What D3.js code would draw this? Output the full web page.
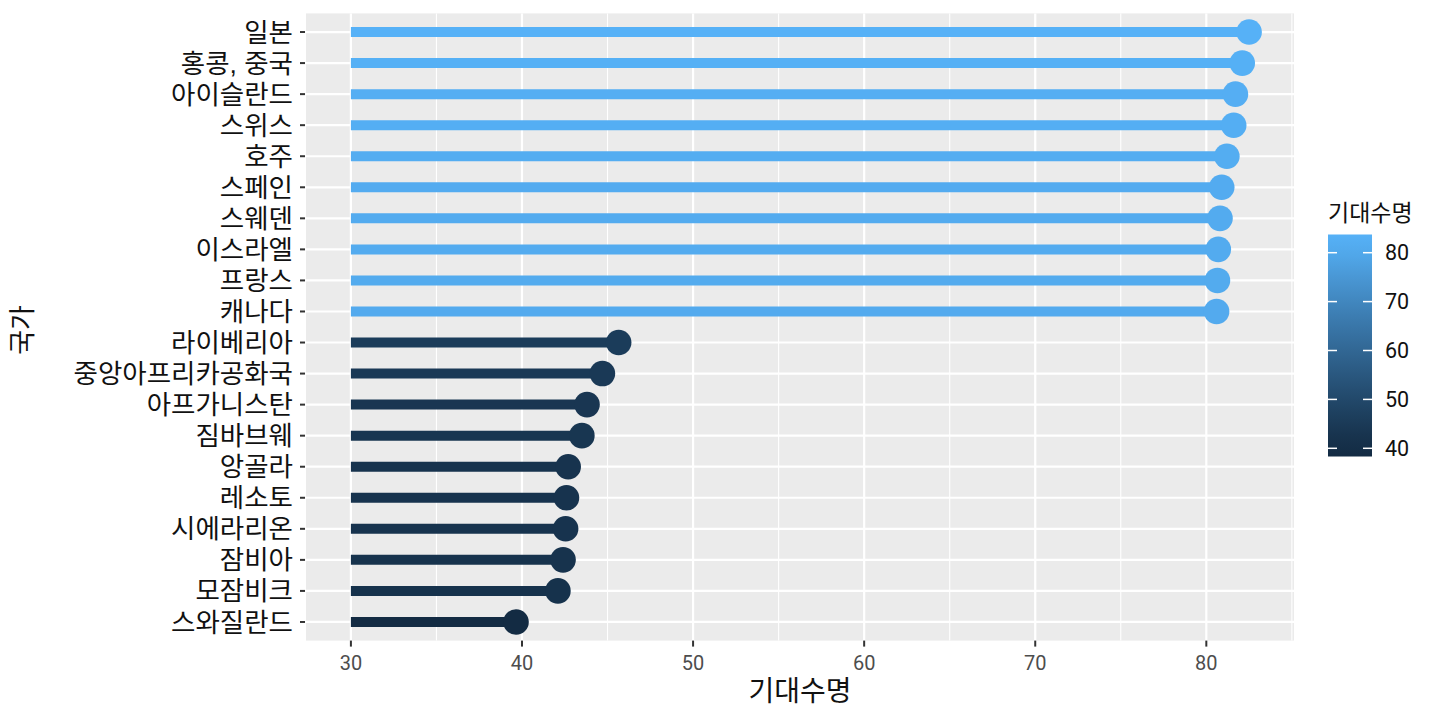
<!DOCTYPE html>
<html><head><meta charset="utf-8">
<script src="https://cdn.jsdelivr.net/npm/d3@7"></script>
<style>body{margin:0;background:#fff}svg{display:block}text{font-family:"Noto Sans CJK KR","Noto Sans",sans-serif}</style>
</head><body><svg id="c" width="1440" height="720"></svg>
<script>
const countries = ["일본","홍콩, 중국","아이슬란드","스위스","호주","스페인","스웨덴","이스라엘","프랑스","캐나다",
  "라이베리아","중앙아프리카공화국","아프가니스탄","짐바브웨","앙골라","레소토","시에라리온","잠비아","모잠비크","스와질란드"];
const lifeExp = [82.5,82.1,81.7,81.6,81.2,80.9,80.8,80.7,80.65,80.6,
  45.65,44.7,43.8,43.5,42.7,42.6,42.55,42.4,42.1,39.65];
const xTicks = [30,40,50,60,70,80];
const legendTicks = [40,50,60,70,80];
const baseline = 30;

const svg = d3.select("#c");
const P = {l:306, r:1294, t:13.4, b:640.6};
const dMin = baseline, dMax = d3.max(lifeExp), pad = (dMax-dMin)*0.05;
const x = d3.scaleLinear().domain([dMin-pad, dMax+pad]).range([P.l, P.r]);
const n = countries.length;
const step = (P.b-P.t)/(n-1+1.2);
const y = d3.scalePoint().domain(countries).range([P.t+0.6*step, P.b-0.6*step]);
const color = d3.scaleLinear().domain(d3.extent(lifeExp)).range(["#132B43","#56B1F7"]).interpolate(d3.interpolateLab);

svg.append("rect").attr("x",P.l).attr("y",P.t).attr("width",P.r-P.l).attr("height",P.b-P.t).attr("fill","#EBEBEB");
const minor = d3.range(35, 90, 10).filter(v=>x(v)<P.r);
svg.selectAll(".mg").data(minor).enter().append("line")
  .attr("x1",d=>x(d)).attr("x2",d=>x(d)).attr("y1",P.t).attr("y2",P.b).attr("stroke","#fff").attr("stroke-width",1.1);
svg.selectAll(".gx").data(xTicks).enter().append("line")
  .attr("x1",d=>x(d)).attr("x2",d=>x(d)).attr("y1",P.t).attr("y2",P.b).attr("stroke","#fff").attr("stroke-width",2.2);
svg.selectAll(".gy").data(countries).enter().append("line")
  .attr("x1",P.l).attr("x2",P.r).attr("y1",d=>y(d)).attr("y2",d=>y(d)).attr("stroke","#fff").attr("stroke-width",2.2);

svg.selectAll(".stem").data(countries).enter().append("line")
  .attr("x1",x(baseline)).attr("x2",(d,i)=>x(lifeExp[i])).attr("y1",d=>y(d)).attr("y2",d=>y(d))
  .attr("stroke",(d,i)=>color(lifeExp[i])).attr("stroke-width",10);
svg.selectAll(".dot").data(countries).enter().append("circle")
  .attr("cx",(d,i)=>x(lifeExp[i])).attr("cy",d=>y(d)).attr("r",12.8)
  .attr("fill",(d,i)=>color(lifeExp[i]));

const ya = svg.append("g");
countries.forEach(c=>{
  ya.append("line").attr("x1",P.l-6).attr("x2",P.l-1).attr("y1",y(c)).attr("y2",y(c)).attr("stroke","#333").attr("stroke-width",2);
  ya.append("text").attr("x",P.l-13).attr("y",y(c)).attr("dy","0.36em").attr("text-anchor","end")
    .style("font-family","'Liberation Sans','Noto Sans CJK KR',sans-serif")
    .attr("font-size",26.5).attr("fill","#111").text(c);
});
const xa = svg.append("g");
xTicks.forEach(v=>{
  xa.append("line").attr("x1",x(v)).attr("x2",x(v)).attr("y1",P.b).attr("y2",P.b+6).attr("stroke","#333").attr("stroke-width",2);
  xa.append("text").attr("x",x(v)).attr("y",P.b+29).attr("text-anchor","middle").attr("font-size",20)
    .style("font-family","Roboto, sans-serif").attr("fill","#4D4D4D").text(v);
});
svg.append("text").attr("x",(P.l+P.r)/2).attr("y",701).attr("text-anchor","middle").attr("font-size",28).attr("fill","#111").text("기대수명");
svg.append("text").attr("transform","translate(32,330) rotate(-90)").attr("text-anchor","middle").attr("font-size",27).attr("fill","#111").text("국가");

const L = {x:1328, w:44, top:234.5, bot:456.5};
const ly = d3.scaleLinear().domain([40,80]).range([448.3,252.7]);
const defs = svg.append("defs");
const grad = defs.append("linearGradient").attr("id","lg").attr("x1",0).attr("x2",0).attr("y1",1).attr("y2",0);
const vLo = ly.invert(L.bot), vHi = ly.invert(L.top);
d3.range(0,1.0001,0.1).forEach(t=>{
  const v = vLo + t*(vHi-vLo);
  const cv = Math.max(color.domain()[0], Math.min(color.domain()[1], v));
  grad.append("stop").attr("offset",t).attr("stop-color",color(cv));
});
svg.append("rect").attr("x",L.x).attr("y",L.top).attr("width",L.w).attr("height",L.bot-L.top).attr("fill","url(#lg)");
legendTicks.forEach(v=>{
  svg.append("line").attr("x1",L.x).attr("x2",L.x+9).attr("y1",ly(v)).attr("y2",ly(v)).attr("stroke","#fff").attr("stroke-width",1.5);
  svg.append("line").attr("x1",L.x+L.w-9).attr("x2",L.x+L.w).attr("y1",ly(v)).attr("y2",ly(v)).attr("stroke","#fff").attr("stroke-width",1.5);
  svg.append("text").attr("x",L.x+L.w+13).attr("y",ly(v)).attr("dy","0.36em").attr("font-size",21.5)
    .style("font-family","Roboto, sans-serif").attr("fill","#111").text(v);
});
svg.append("text").attr("x",L.x).attr("y",221).attr("font-size",23).attr("fill","#111").text("기대수명");
</script></body></html>
